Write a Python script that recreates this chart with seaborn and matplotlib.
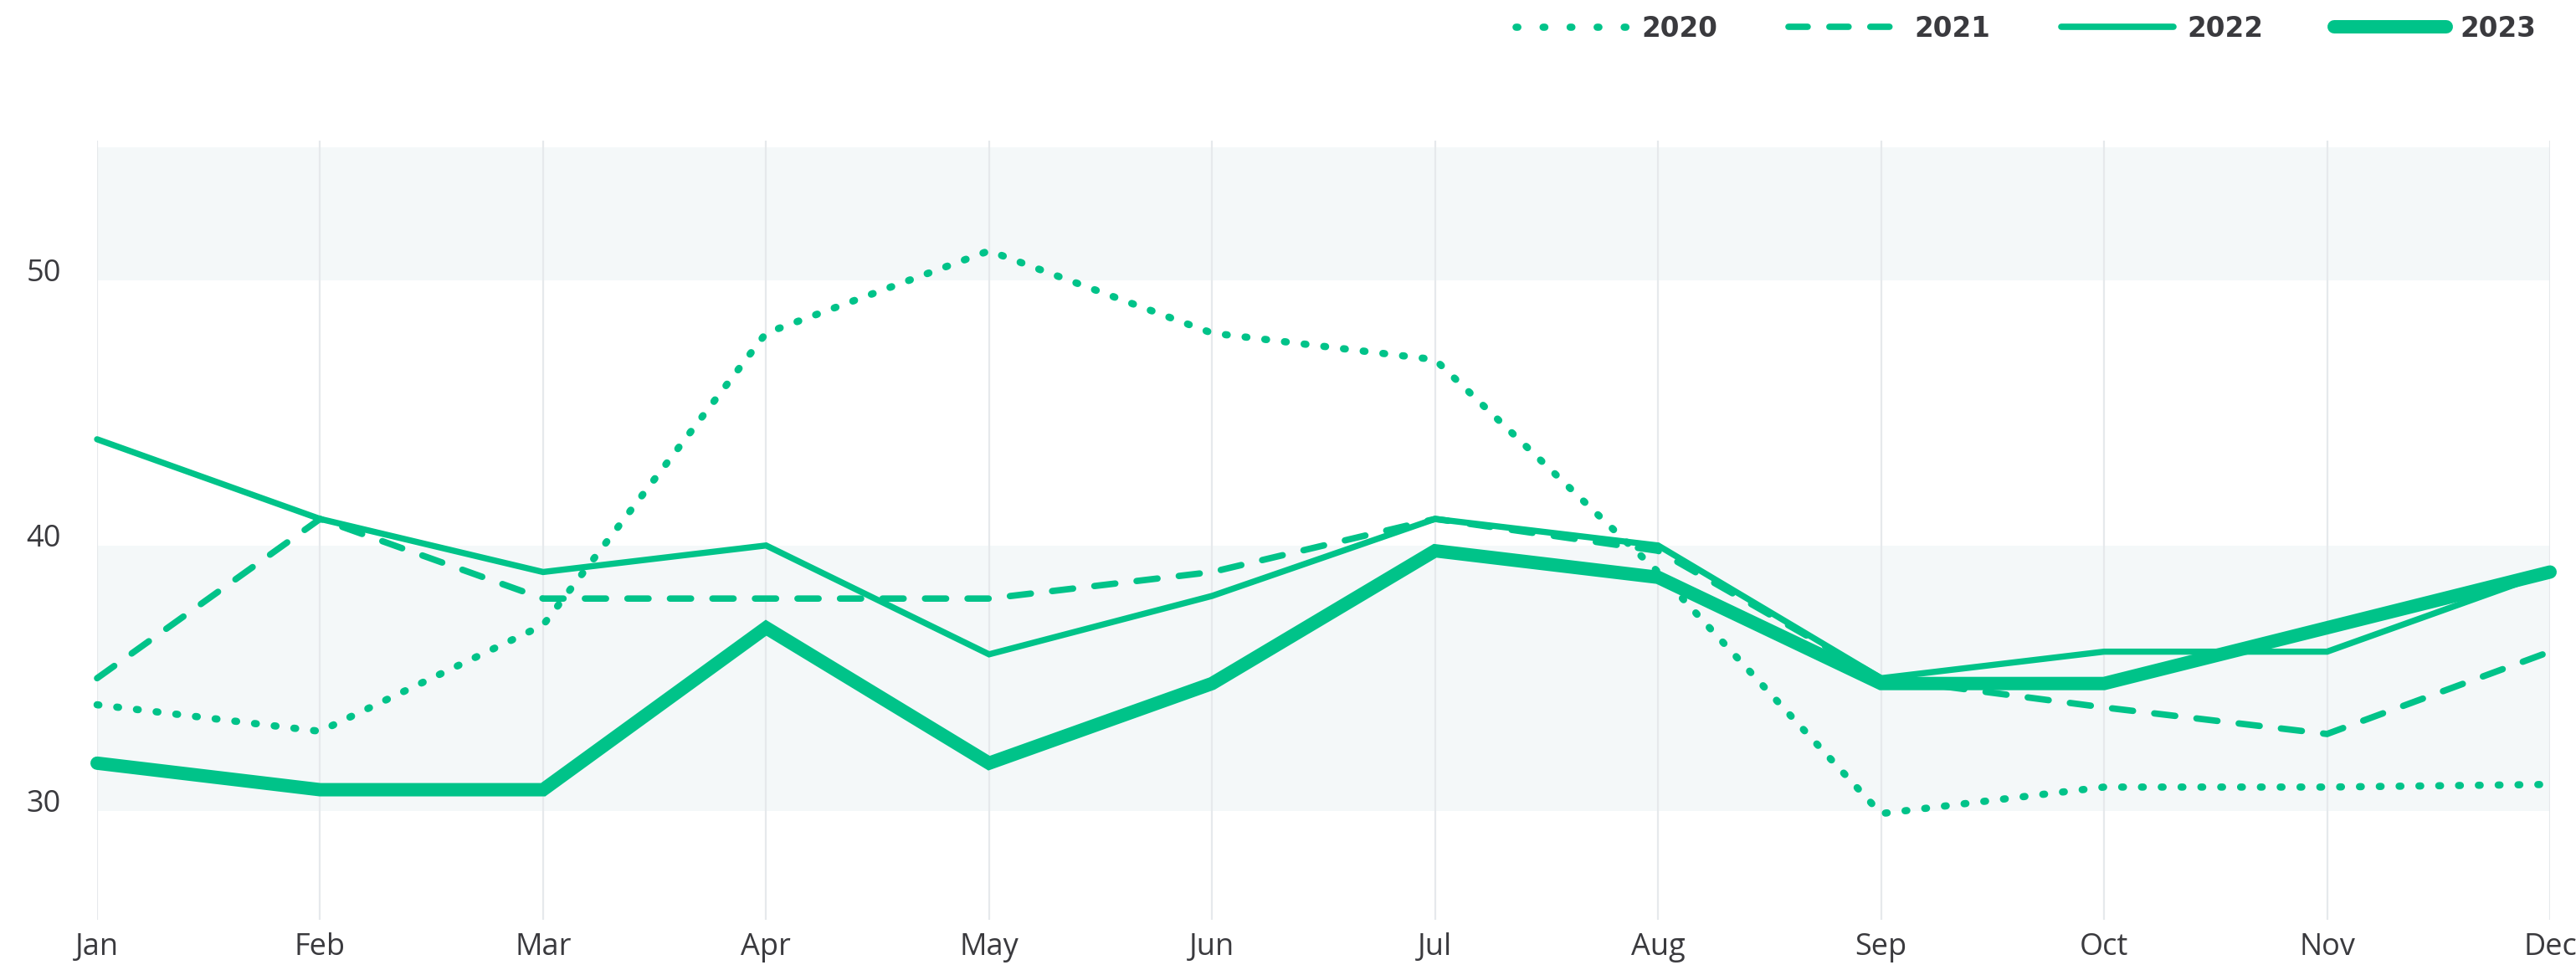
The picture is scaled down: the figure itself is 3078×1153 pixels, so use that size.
import matplotlib
matplotlib.use("Agg")
import matplotlib.pyplot as plt
import matplotlib.transforms as mtransforms
from matplotlib.lines import Line2D
import seaborn as sns
import pandas as pd

# Monthly values per year
months = ["Jan", "Feb", "Mar", "Apr", "May", "Jun",
          "Jul", "Aug", "Sep", "Oct", "Nov", "Dec"]
values_2020 = [34, 33, 37, 48, 51.1, 48, 47, 39, 29.9, 30.9, 30.9, 31.0]
values_2021 = [35, 41, 38, 38, 38, 39, 41, 39.8, 35, 33.9, 32.9, 36]
values_2022 = [44, 41, 39, 40, 35.9, 38.1, 41, 40, 35, 36, 36, 39]
values_2023 = [31.8, 30.8, 30.8, 36.9, 31.8, 34.8, 39.8, 38.8, 34.8, 34.8, 36.9, 39.0]
y_ticks = [30, 40, 50]

GREEN = "#00C389"
TEXT = "#3a3a3e"
BAND = "#F4F8F9"
GRID = "#E6E9EC"

sns.set_theme(style="white")
plt.rcParams["font.family"] = ["Open Sans", "DejaVu Sans"]

fig = plt.figure(figsize=(30.78, 11.53), dpi=100)
W, H = 3078, 1153
ax = fig.add_axes([116 / W, 1 - 1099 / H, (3047 - 116) / W, (1099 - 168) / H])
ax.set_xlim(0, 11)
ax.set_ylim(25.9, 55.25)

# alternating background bands
ax.axhspan(30, 40, color=BAND, zorder=0, lw=0)
ax.axhspan(50, 55, color=BAND, zorder=0, lw=0)

# vertical grid lines at each month
for i in range(len(months)):
    ax.axvline(i, color=GRID, lw=1.6, zorder=0.5)

df = pd.DataFrame({
    "month": list(range(12)) * 4,
    "value": values_2020 + values_2021 + values_2022 + values_2023,
    "year": ["2020"] * 12 + ["2021"] * 12 + ["2022"] * 12 + ["2023"] * 12,
})

styles = {
    "2020": dict(lw=6.2, ls=(0, (0.25, 2.5))),
    "2021": dict(lw=5.5, ls=(0, (3.3, 3.35))),
    "2022": dict(lw=5.3, ls="-"),
    "2023": dict(lw=11.5, ls="-"),
}

for yr, st in styles.items():
    sub = df[df["year"] == yr]
    sns.lineplot(data=sub, x="month", y="value", ax=ax, color=GREEN,
                 linewidth=st["lw"], linestyle=st["ls"], legend=False,
                 solid_capstyle="round", dash_capstyle="round",
                 solid_joinstyle="miter", dash_joinstyle="miter",
                 clip_on=False, zorder=3)

ax.set_xlabel("")
ax.set_ylabel("")
ax.set_xticks(range(12))
ax.set_xticklabels(months)
ax.set_yticks(y_ticks)
ax.set_yticklabels([str(v) for v in y_ticks])
ax.tick_params(axis="x", length=0, pad=11, labelsize=26, labelcolor=TEXT)
ax.tick_params(axis="y", length=0, pad=31, labelsize=26, labelcolor=TEXT)
lift = mtransforms.ScaledTranslation(0, 12 / 100, fig.dpi_scale_trans)
for lab in ax.get_yticklabels():
    lab.set_verticalalignment("center_baseline")
    lab.set_transform(lab.get_transform() + lift)
for s in ax.spines.values():
    s.set_visible(False)
ax.grid(False)

handles = [
    Line2D([], [], color=GREEN, lw=6.2, ls=(0, (0.25, 3.5)), dash_capstyle="round"),
    Line2D([], [], color=GREEN, lw=5.5, ls=(0, (3.0, 3.4)), dash_capstyle="round"),
    Line2D([], [], color=GREEN, lw=5.5, solid_capstyle="round"),
    Line2D([], [], color=GREEN, lw=11.5, solid_capstyle="round"),
]
leg = fig.legend(handles, ["2020", "2021", "2022", "2023"], ncol=4,
                 loc="center right", bbox_to_anchor=(3030 / W, 1 - 34 / H),
                 frameon=False, handlelength=4.1,
                 handletextpad=0.5, columnspacing=2.6, borderaxespad=0,
                 borderpad=0,
                 prop={"family": "DejaVu Sans", "weight": "bold", "size": 23.5})
for t in leg.get_texts():
    t.set_color(TEXT)

fig.savefig("out.png", dpi=100, facecolor="white")
